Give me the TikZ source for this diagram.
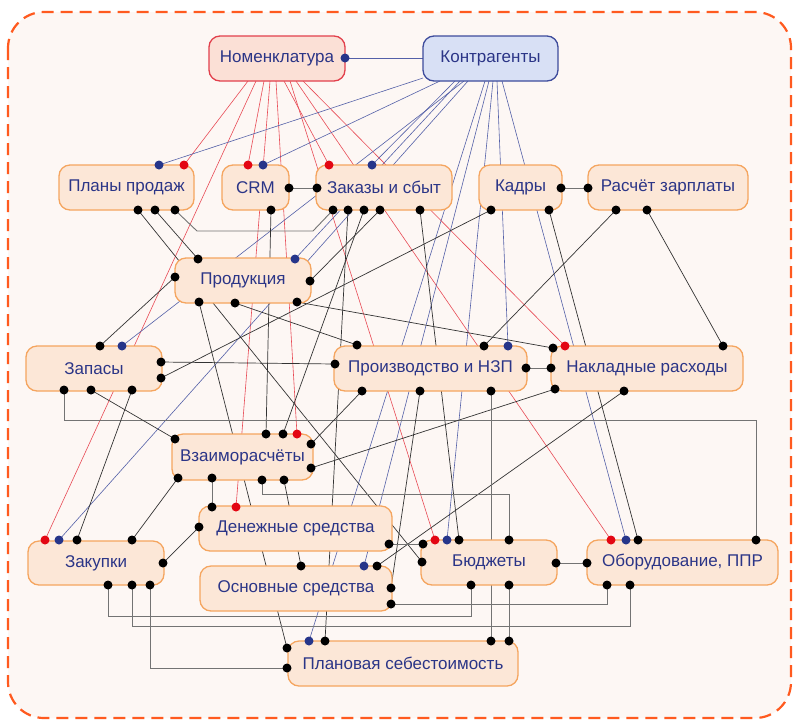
\documentclass[tikz,border=0pt]{standalone}
\usepackage{fontspec}
\setmainfont{Liberation Sans}
\definecolor{framec}{HTML}{FF5A1F}
\definecolor{bgc}{HTML}{FDF7F4}
\definecolor{boxfill}{HTML}{FCE7D7}
\definecolor{boxdraw}{HTML}{F5A55F}
\definecolor{txt}{HTML}{2B3587}
\definecolor{nomfill}{HTML}{FBE0D6}
\definecolor{nomdraw}{HTML}{E2404C}
\definecolor{konfill}{HTML}{D8E0F5}
\definecolor{kondraw}{HTML}{3E4C9C}
\definecolor{redl}{HTML}{E84A55}
\definecolor{bluel}{HTML}{5460A8}
\definecolor{redd}{HTML}{E30613}
\definecolor{blued}{HTML}{26358A}
\tikzset{
  box/.style={draw=boxdraw, fill=boxfill, line width=1.3pt, rounded corners=11pt,
    text=txt, font=\fontsize{17pt}{20pt}\selectfont, inner sep=0pt, minimum height=45pt},
  lk/.style={draw=black!80, line width=0.7pt},
  lg/.style={draw=black!55, line width=0.9pt},
  lr/.style={draw=redl, line width=0.6pt},
  lb/.style={draw=bluel, line width=0.6pt},
}
\begin{document}
\begin{tikzpicture}[x=1pt,y=-1pt]
\useasboundingbox (0,0) rectangle (794,721);
\fill[white] (0,0) rectangle (794,721);
\draw[framec, line width=2.2pt, dash pattern=on 12pt off 7pt, rounded corners=36pt, fill=bgc] (8,12) rectangle (791,718);

% ---- dot coordinates ----
\coordinate (nomR) at (345,58);
\coordinate (konL) at (423,58);
\coordinate (plR) at (184,165); \coordinate (plBl) at (159,165);
\coordinate (plB1) at (138,210); \coordinate (plB2) at (155,210); \coordinate (plB3) at (175,210);
\coordinate (crmRd) at (248,165); \coordinate (crmBl) at (263,165);
\coordinate (crmR) at (289,188); \coordinate (crmB) at (271,210);
\coordinate (zakRd) at (329,165); \coordinate (zakBl) at (372,165);
\coordinate (zakL) at (317,188);
\coordinate (zakB1) at (333,210); \coordinate (zakB2) at (348,210); \coordinate (zakB3) at (364,210);
\coordinate (zakB4) at (380,210); \coordinate (zakB5) at (420,210);
\coordinate (kadR) at (561,188); \coordinate (kadB1) at (491,210); \coordinate (kadB2) at (549,210);
\coordinate (rasL) at (588,188); \coordinate (rasB1) at (616,210); \coordinate (rasB2) at (647,210);
\coordinate (prodT1) at (198,259); \coordinate (prodBl) at (295,259);
\coordinate (prodL) at (175,277); \coordinate (prodR) at (310,281);
\coordinate (prodB1) at (199,302); \coordinate (prodB2) at (235,303); \coordinate (prodB3) at (297,302);
\coordinate (zapT1) at (100,346); \coordinate (zapBl) at (122,346);
\coordinate (zapR1) at (161,362); \coordinate (zapR2) at (161,378);
\coordinate (zapB1) at (64,390); \coordinate (zapB2) at (91,390); \coordinate (zapB3) at (132,390);
\coordinate (prL) at (335,364); \coordinate (prT1) at (357,345); \coordinate (prT2) at (484,346);
\coordinate (prBl) at (508,346); \coordinate (prR) at (526,368);
\coordinate (prB1) at (362,391); \coordinate (prB2) at (420,391); \coordinate (prB3) at (491,391);
\coordinate (nakT1) at (553,348); \coordinate (nakRd) at (565,346); \coordinate (nakT3) at (723,346);
\coordinate (nakL) at (551,368); \coordinate (nakB1) at (555,389); \coordinate (nakB2) at (624,391);
\coordinate (vzTL) at (175,439); \coordinate (vzT1) at (266,434); \coordinate (vzT2) at (283,434);
\coordinate (vzRd) at (297,434);
\coordinate (vzR1) at (311,444); \coordinate (vzR2) at (311,468);
\coordinate (vzB1) at (178,478); \coordinate (vzB2) at (212,478); \coordinate (vzB3) at (262,480); \coordinate (vzB4) at (284,480);
\coordinate (denT1) at (212,507); \coordinate (denRd) at (236,507);
\coordinate (denL) at (199,527); \coordinate (denR) at (389,544);
\coordinate (zkRd) at (45,540); \coordinate (zkBl) at (59,540); \coordinate (zkT3) at (77,540); \coordinate (zkT4) at (132,540);
\coordinate (zkR) at (163,563);
\coordinate (zkB1) at (108,585); \coordinate (zkB2) at (132,585); \coordinate (zkB3) at (150,585);
\coordinate (osT1) at (301,566); \coordinate (osBl) at (364,566); \coordinate (osT3) at (377,566);
\coordinate (osR1) at (391,588); \coordinate (osR2) at (391,604);
\coordinate (budL1) at (423,544); \coordinate (budL2) at (422,562);
\coordinate (budRd) at (435,540); \coordinate (budBl) at (447,540); \coordinate (budT3) at (459,540); \coordinate (budT4) at (509,540);
\coordinate (budR) at (556,563); \coordinate (budB1) at (471,585); \coordinate (budB2) at (509,585);
\coordinate (oboRd) at (611,540); \coordinate (oboBl) at (626,540); \coordinate (oboT3) at (638,540); \coordinate (oboT4) at (756,540);
\coordinate (oboL) at (587,563); \coordinate (oboB1) at (607,585); \coordinate (oboB2) at (630,585);
\coordinate (plnL1) at (287,648); \coordinate (plnL2) at (287,668);
\coordinate (plnBl) at (309,641); \coordinate (plnT2) at (325,641);
\coordinate (plnT3) at (491,641); \coordinate (plnT4) at (509,641);

% ---- red connectors from Nomenklatura ----
\draw[lr] (248,81) -- (plR);
\draw[lr] (256,81) -- (zkRd);
\draw[lr] (264,81) -- (crmRd);
\draw[lr] (270,81) -- (denRd);
\draw[lr] (276,81) -- (vzRd);
\draw[lr] (284,81) -- (zakRd);
\draw[lr] (290,81) -- (budRd);
\draw[lr] (296,81) -- (oboRd);
\draw[lr] (303,81) -- (nakRd);

% ---- blue connectors from Kontragenty ----
\draw[lb] (nomR) -- (konL);
\draw[lb] (423,78) -- (plBl);
\draw[lb] (440,81) -- (crmBl);
\draw[lb] (455,81) -- (zakBl);
\draw[lb] (460,81) -- (prodBl);
\draw[lb] (464,81) -- (zapBl);
\draw[lb] (468,81) -- (zkBl);
\draw[lb] (485,81) -- (plnBl);
\draw[lb] (489,81) -- (osBl);
\draw[lb] (493,81) -- (budBl);
\draw[lb] (497,81) -- (prBl);
\draw[lb] (502,81) -- (oboBl);

% ---- black connectors ----
\draw[lg] (crmR) -- (zakL);
\draw[lg] (kadR) -- (rasL);
\draw[lg] (prR) -- (nakL);
\draw[lg] (budR) -- (oboL);
\draw[lg] (plB3) -- (197,231) -- (313,231) -- (zakB1);
\draw[lk] (plB2) -- (prodT1);
\draw[lk] (plB1) -- (budL2);
\draw[lk] (prodL) -- (zapT1);
\draw[lk] (crmB) -- (vzT1);
\draw[lk] (zakB3) -- (vzT2);
\draw[lk] (zakB4) -- (prodR);
\draw[lk] (zakB2) -- (plnT2);
\draw[lk] (zakB5) -- (budT3);
\draw[lk] (kadB1) -- (zapR2);
\draw[lk] (kadB2) -- (oboT3);
\draw[lk] (rasB1) -- (prT2);
\draw[lk] (rasB2) -- (nakT3);
\draw[lk] (prodB3) -- (nakT1);
\draw[lk] (prodB2) -- (prT1);
\draw[lk] (prodB1) -- (plnL1);
\draw[lk] (zapR1) -- (prL);
\draw[lg] (zapB1) -- (64,420) -- (756,420) -- (oboT4);
\draw[lk] (zapB2) -- (vzTL);
\draw[lk] (zapB3) -- (zkT3);
\draw[lk] (nakB1) -- (vzR2);
\draw[lk] (nakB2) -- (osT3);
\draw[lk] (prB1) -- (vzR1);
\draw[lk] (prB2) -- (osR1);
\draw[lg] (prB3) -- (plnT3);
\draw[lk] (vzB1) -- (zkT4);
\draw[lg] (vzB2) -- (denT1);
\draw[lg] (vzB3) -- (262,494) -- (509,494) -- (budT4);
\draw[lk] (vzB4) -- (osT1);
\draw[lk] (denL) -- (zkR);
\draw[lg] (denR) -- (budL1);
\draw[lg] (osR2) -- (607,604) -- (oboB1);
\draw[lg] (zkB1) -- (108,616) -- (471,616) -- (budB1);
\draw[lg] (zkB2) -- (132,626) -- (630,626) -- (oboB2);
\draw[lg] (zkB3) -- (150,668) -- (plnL2);
\draw[lg] (budB2) -- (plnT4);

% ---- boxes ----
\node[box, draw=nomdraw, fill=nomfill, minimum width=136pt] (nom) at (277,58.5) {Номенклатура};
\node[box, draw=kondraw, fill=konfill, minimum width=135pt] (kon) at (490.5,58.5) {Контрагенты};
\node[box, minimum width=135pt] (plans) at (126.5,187.5) {Планы продаж};
\node[box, minimum width=67pt] (crm) at (255.5,187.5) {CRM};
\node[box, minimum width=136pt] (zak) at (384,187.5) {Заказы и сбыт};
\node[box, minimum width=83pt] (kad) at (520.5,187.5) {Кадры};
\node[box, minimum width=160pt] (ras) at (668,187.5) {Расчёт зарплаты};
\node[box, minimum width=136pt] (prod) at (243,280.5) {Продукция};
\node[box, minimum width=136pt] (zap) at (94,368.5) {Запасы};
\node[box, minimum width=193pt] (pr) at (430.5,368.5) {Производство и НЗП};
\node[box, minimum width=192pt] (nak) at (647,368.5) {Накладные расходы};
\node[box, minimum width=141pt, minimum height=46pt] (vz) at (242.5,457) {Взаиморасчёты};
\node[box, minimum width=193pt] (den) at (295.5,528.5) {Денежные средства};
\node[box, minimum width=136pt, minimum height=44pt] (zk) at (96,563) {Закупки};
\node[box, minimum width=192pt] (os) at (296,588.5) {Основные средства};
\node[box, minimum width=136pt] (bud) at (489,562.5) {Бюджеты};
\node[box, minimum width=191pt] (obo) at (682.5,562.5) {Оборудование, ППР};
\node[box, minimum width=230pt] (pln) at (403,663.5) {Плановая себестоимость};

% ---- dots ----
\foreach \d in {plB1,plB2,plB3,crmR,crmB,zakL,zakB1,zakB2,zakB3,zakB4,zakB5,kadR,kadB1,kadB2,
  rasL,rasB1,rasB2,prodT1,prodL,prodR,prodB1,prodB2,prodB3,zapT1,zapR1,zapR2,zapB1,zapB2,zapB3,
  prL,prT1,prT2,prR,prB1,prB2,prB3,nakT1,nakT3,nakL,nakB1,nakB2,vzTL,vzT1,vzT2,vzR1,vzR2,
  vzB1,vzB2,vzB3,vzB4,denT1,denL,denR,zkT3,zkT4,zkR,zkB1,zkB2,zkB3,osT1,osT3,osR1,osR2,
  budL1,budL2,budT3,budT4,budR,budB1,budB2,oboT3,oboT4,oboL,oboB1,oboB2,plnL1,plnL2,plnT2,plnT3,plnT4}
  \fill[black] (\d) circle (4.5pt);
\foreach \d in {plR,crmRd,zakRd,nakRd,vzRd,denRd,zkRd,budRd,oboRd}
  \fill[redd] (\d) circle (4.5pt);
\foreach \d in {nomR,plBl,crmBl,zakBl,prodBl,zapBl,prBl,zkBl,osBl,budBl,oboBl,plnBl}
  \fill[blued] (\d) circle (4.5pt);
\end{tikzpicture}
\end{document}
